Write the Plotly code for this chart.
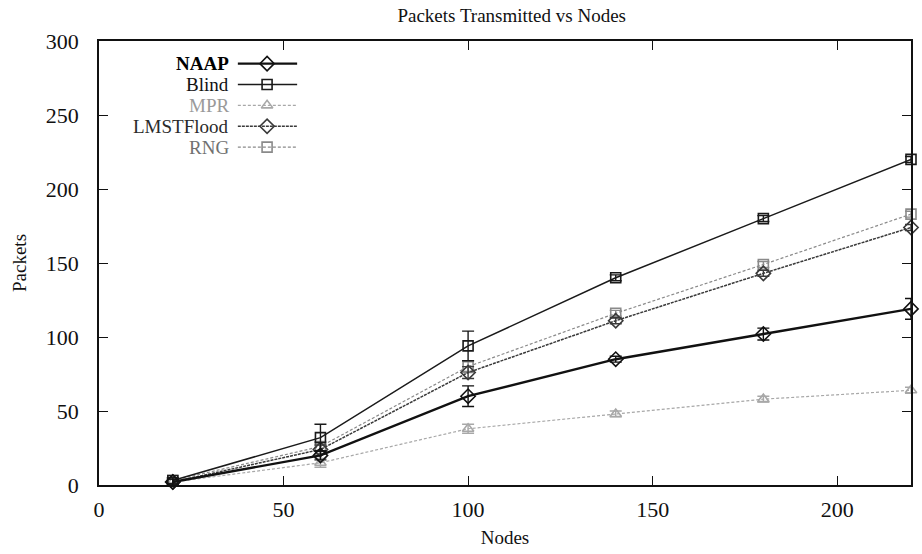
import plotly.graph_objects as go

# Node counts on the x axis
nodes = [20, 60, 100, 140, 180, 220]

# Packets transmitted per protocol (mean values)
naap = [2, 20, 60, 85, 102, 119]
blind = [3, 32, 94, 140, 180, 220]
mpr = [2, 15, 38, 48, 58, 64]
lmstflood = [2, 24, 76, 111, 143, 174]
rng = [3, 26, 80, 116, 149, 183]

# Error bar half-widths
naap_err = [2, 3, 7, 2, 4, 7]
blind_err = [2, 9, 10, 2, 2, 2]
mpr_err = [2, 3, 3, 2, 2, 2]
lmstflood_err = [2, 3, 4, 2, 2, 2]
rng_err = [2, 3, 4, 2, 2, 2]

series_names = ["NAAP", "Blind", "MPR", "LMSTFlood", "RNG"]

FONT = "Liberation Serif"

styles = {
    "NAAP": dict(color="#111111", width=2.4, dash="solid", symbol="diamond-open", size=11, text="#000000", bold=True),
    "Blind": dict(color="#1a1a1a", width=1.5, dash="solid", symbol="square-open", size=10, text="#111111", bold=False),
    "MPR": dict(color="#a8a8a8", width=1.2, dash="3px,2px", symbol="triangle-up-open", size=10, text="#9a9a9a", bold=False),
    "LMSTFlood": dict(color="#3a3a3a", width=1.5, dash="3px,1px", symbol="diamond-open", size=11, text="#2a2a2a", bold=False),
    "RNG": dict(color="#8a8a8a", width=1.2, dash="3px,2px", symbol="square-open", size=10, text="#707070", bold=False),
}

values = {"NAAP": naap, "Blind": blind, "MPR": mpr, "LMSTFlood": lmstflood, "RNG": rng}
errors = {"NAAP": naap_err, "Blind": blind_err, "MPR": mpr_err, "LMSTFlood": lmstflood_err, "RNG": rng_err}

fig = go.Figure()

# Draw the lighter series first so the dark ones sit on top
for name in ["MPR", "RNG", "LMSTFlood", "Blind", "NAAP"]:
    st = styles[name]
    fig.add_trace(go.Scatter(
        x=nodes, y=values[name], name=name, mode="lines+markers",
        line=dict(color=st["color"], width=st["width"], dash=st["dash"]),
        marker=dict(symbol=st["symbol"], size=st["size"], color=st["color"],
                    line=dict(color=st["color"], width=1.6)),
        error_y=dict(type="data", array=errors[name], visible=True,
                     color=st["color"], thickness=1.4, width=6),
        cliponaxis=False,
        showlegend=False,
    ))

# Legend block: right-aligned labels with a line sample to their right
row_y = [0.949, 0.902, 0.855, 0.808, 0.761]
lx0, lxm, lx1 = 0.171, 0.207, 0.244
annotations = []
for name, yy in zip(series_names, row_y):
    st = styles[name]
    fig.add_trace(go.Scatter(
        x=[lx0, lx1], y=[yy, yy], mode="lines", xaxis="x2", yaxis="y2",
        line=dict(color=st["color"], width=st["width"], dash=st["dash"]),
        showlegend=False, hoverinfo="skip",
    ))
    fig.add_trace(go.Scatter(
        x=[lxm], y=[yy], mode="markers", xaxis="x2", yaxis="y2",
        marker=dict(symbol=st["symbol"], size=st["size"], color=st["color"],
                    line=dict(color=st["color"], width=1.6)),
        showlegend=False, hoverinfo="skip",
    ))
    label = f"<b>{name}</b>" if st["bold"] else name
    annotations.append(dict(
        x=0.161, y=yy, xref="paper", yref="paper", text=label, showarrow=False,
        xanchor="right", yanchor="middle", borderpad=0,
        font=dict(family=FONT, size=19, color=st["text"]),
    ))

axis_common = dict(
    showgrid=False, zeroline=False, showline=True, linecolor="#111111", linewidth=1.5,
    mirror="allticks", ticks="inside", ticklen=9, tickwidth=1.3, tickcolor="#111111",
    tickfont=dict(family=FONT, size=22, color="#111111"),
)

fig.update_layout(
    width=922, height=554,
    margin=dict(l=99, r=9, t=41, b=64),
    paper_bgcolor="white", plot_bgcolor="white",
    title=dict(text="Packets Transmitted vs Nodes", x=0.555, xanchor="center",
               y=0.972, yanchor="middle",
               font=dict(family=FONT, size=19, color="#111111")),
    xaxis=dict(range=[0, 220], tickvals=[0, 50, 100, 150, 200],
               ticklabelstandoff=4,
               title=dict(text="Nodes", standoff=10, font=dict(family=FONT, size=19, color="#111111")),
               **axis_common),
    yaxis=dict(range=[0, 300], tickvals=[0, 50, 100, 150, 200, 250, 300],
               ticklabelstandoff=14,
               title=dict(text="Packets", standoff=14, font=dict(family=FONT, size=19, color="#111111")),
               **axis_common),
    xaxis2=dict(range=[0, 1], overlaying="x", visible=False, fixedrange=True),
    yaxis2=dict(range=[0, 1], overlaying="y", visible=False, fixedrange=True),
    annotations=annotations,
    showlegend=False,
)

fig.write_html("out.html")
